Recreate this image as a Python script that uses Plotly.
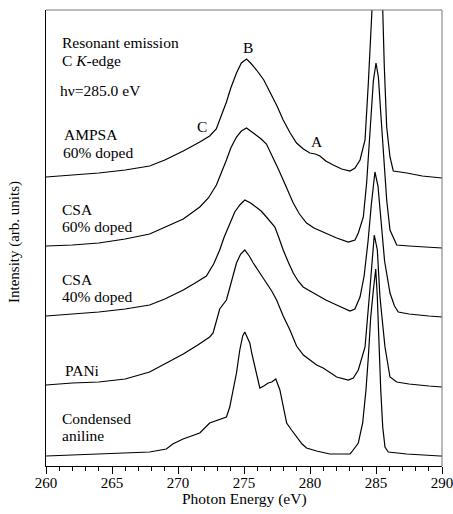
import plotly.graph_objects as go

# ---------------- data (stacked intensities, arb. units) -------------
ampsa_e = [260, 262, 264, 266, 267.85, 269, 270.4, 271.65, 272.4, 272.9, 273.3, 273.67, 274.0,
           274.43, 274.8, 275.19, 275.5, 275.95, 276.5, 276.96, 277.5, 277.97, 278.5, 278.98,
           279.5, 279.99, 280.4, 280.75, 281.2, 281.76, 282.4, 283.03, 283.41, 283.79, 284.17,
           284.42, 284.72, 284.9, 285.05, 285.2, 285.51, 285.63, 285.81, 286.06, 286.31, 287.33,
           288.5, 290]
ampsa_i = [289, 291, 293, 296, 300, 306, 315, 324, 330, 337, 350, 364, 378,
           393, 403, 407, 403, 396, 386, 374, 360, 346, 333, 323,
           317, 313, 312, 310, 305, 301, 297, 295, 298, 306, 326,
           383, 456, 520, 550, 520, 456, 399, 339, 309, 295, 293,
           290, 288]

csa60_e = [260, 262, 264, 266, 267.85, 269, 270.4, 271.65, 272.3, 272.91, 273.3, 273.67, 274.0,
           274.43, 274.8, 275.19, 275.5, 275.95, 276.3, 276.7, 277.2, 277.6, 277.97, 278.35,
           278.73, 279.2, 279.74, 280.3, 281.0, 282.02, 282.9, 283.41, 283.66, 284.04, 284.29,
           284.54, 284.8, 285.0, 285.18, 285.35, 285.55, 285.81, 286.06, 286.57, 287.5, 289, 290]
csa60_i = [220, 221, 223, 227, 232, 239, 247, 259, 268, 281, 293, 306, 318,
           329, 335, 338, 335, 331, 327, 322, 309, 297, 286, 274,
           263, 252, 243, 238, 234, 228, 224, 226, 233, 249, 283,
           333, 385, 403, 389, 355, 316, 266, 236, 221, 220, 219, 218]

csa40_e = [260, 262, 264, 266, 267.85, 269, 270.4, 271.3, 272.15, 272.7, 273.16, 273.5, 273.92,
           274.3, 274.68, 275.06, 275.5, 275.95, 276.3, 276.7, 277.34, 277.65, 277.97, 278.35,
           278.73, 279.1, 279.48, 280.0, 280.5, 281.2, 282.02, 283.03, 283.4, 283.79, 284.1,
           284.4, 284.65, 284.92, 285.15, 285.4, 285.65, 286.06, 286.4, 286.69, 287.5, 289, 290]
csa40_i = [150, 152, 154, 157, 161, 167, 176, 183, 190, 202, 216, 229, 243,
           254, 261, 266, 263, 259, 255, 249, 239, 228, 216, 204,
           193, 185, 179, 175, 171, 166, 161, 155, 157, 169, 190,
           225, 262, 294, 280, 240, 205, 173, 160, 154, 152, 150, 149]

pani_e = [260, 262, 264, 266, 267.85, 269, 270.4, 271.5, 272.4, 272.66, 273.16, 273.67, 274.0,
          274.43, 274.75, 275.06, 275.4, 275.7, 276.2, 276.7, 277.1, 277.47, 277.97, 278.48,
          278.98, 279.5, 279.99, 280.5, 281.0, 282.02, 282.9, 283.28, 283.66, 284.17, 284.49,
          284.72, 284.87, 285.1, 285.3, 285.68, 286.06, 286.57, 287.5, 289, 290]
pani_i = [81, 83, 84, 87, 94, 102, 112, 121, 129, 133, 157, 166, 183,
          203, 212, 216, 210, 203, 193, 183, 175, 166, 150, 136,
          120, 111, 106, 101, 98, 89, 86, 88, 96, 119, 169,
          209, 231, 216, 169, 119, 89, 84, 82, 80, 79]

aniline_e = [260, 262, 264, 266, 267.85, 269.12, 269.6, 270.38, 271.0, 271.65, 272.4, 273.0,
             273.67, 273.92, 274.2, 274.43, 274.68, 274.9, 275.06, 275.25, 275.44, 275.6,
             275.82, 276.2, 276.5, 276.83, 277.1, 277.41, 277.72, 278.0, 278.23, 278.6, 278.98,
             279.4, 279.74, 280.5, 281.5, 283.03, 283.16, 283.66, 283.99, 284.24, 284.42, 284.6,
             284.8, 284.98, 285.1, 285.23, 285.36, 285.51, 285.68, 285.93, 287.33, 289.86, 290]
aniline_i = [10, 11, 12, 13, 14, 17, 22, 27, 30, 33, 43, 46,
             49, 59, 78, 93, 116, 130, 134, 128, 123, 112,
             99, 78, 80, 83, 84, 87, 76, 58, 43, 36, 29,
             22, 18, 15, 12, 12, 14, 23, 43, 76, 109, 149,
             176, 197, 169, 119, 76, 39, 19, 14, 12, 10, 10]

series_names = ["AMPSA 60% doped", "CSA 60% doped", "CSA 40% doped", "PANi", "Condensed aniline"]
series_e = [ampsa_e, csa60_e, csa40_e, pani_e, aniline_e]
series_i = [ampsa_i, csa60_i, csa40_i, pani_i, aniline_i]

x_ticks = [260, 265, 270, 275, 280, 285, 290]

FONT = '"Liberation Serif", Tinos, "Times New Roman", Times, "DejaVu Serif", serif'

fig = go.Figure()
for name, e, i in zip(series_names, series_e, series_i):
    fig.add_trace(go.Scatter(x=e, y=i, mode="lines", name=name,
                             line=dict(color="black", width=1.2), showlegend=False))

# text labels: (text, x[eV], y[arb], xanchor)
labels = [
    ("Resonant emission", 261.06, 423.5, "left"),
    ("C <i>K</i>-edge", 261.06, 405.5, "left"),
    ("hν=285.0 eV", 260.91, 376, "left"),
    ("AMPSA", 261.19, 331.3, "left"),
    ("60% doped", 261.1, 314, "left"),
    ("CSA", 261.06, 257, "left"),
    ("60% doped", 261.06, 240, "left"),
    ("CSA", 261.06, 187, "left"),
    ("40% doped", 261.06, 170, "left"),
    ("PANi", 261.31, 96, "left"),
    ("Condensed", 261.06, 48, "left"),
    ("aniline", 261.06, 30.5, "left"),
    ("C", 271.82, 339.5, "center"),
    ("B", 275.3, 419, "center"),
    ("A", 280.53, 325, "center"),
]
for t, x, y, xa in labels:
    fig.add_annotation(text=t, x=x, y=y, xref="x", yref="y", xanchor=xa, yanchor="middle",
                       showarrow=False, font=dict(family=FONT, size=15.5, color="black"))

# axis titles
fig.add_annotation(text="Photon Energy (eV)", x=0.5, y=-0.073, xref="paper", yref="paper",
                   xanchor="center", yanchor="middle", showarrow=False,
                   font=dict(family=FONT, size=15.5, color="black"))
fig.add_annotation(text="Intensity (arb. units)", x=-0.081, y=0.491, xref="paper", yref="paper",
                   xanchor="center", yanchor="middle", showarrow=False, textangle=-90,
                   font=dict(family=FONT, size=15, color="black"))

# frame top / right (grey)
fig.add_shape(type="line", xref="paper", yref="paper", x0=0, x1=1, y0=1, y1=1,
              line=dict(color="#777777", width=1))
fig.add_shape(type="line", xref="paper", yref="paper", x0=1, x1=1, y0=0, y1=1,
              line=dict(color="#777777", width=1))

fig.update_layout(
    width=453, height=514,
    margin=dict(l=46, r=11, t=10, b=48, autoexpand=False),
    paper_bgcolor="white", plot_bgcolor="white",
    font=dict(family=FONT, color="black"),
    xaxis=dict(range=[260, 290], tickvals=x_ticks, ticks="outside", ticklen=7, tickwidth=1,
               tickcolor="black", showline=True, linecolor="black", linewidth=1,
               automargin=False, ticklabeloverflow="allow", ticklabelstandoff=-4,
               showgrid=False, zeroline=False, tickfont=dict(family=FONT, size=15, color="black"),
               minor=dict(dtick=1, ticks="outside", ticklen=4, tickcolor="black", tickwidth=1,
                          showgrid=False)),
    yaxis=dict(range=[0, 456], showticklabels=False, ticks="", showline=True, linecolor="black",
               linewidth=1, showgrid=False, zeroline=False, automargin=False),
)

fig.write_html("out.html")
